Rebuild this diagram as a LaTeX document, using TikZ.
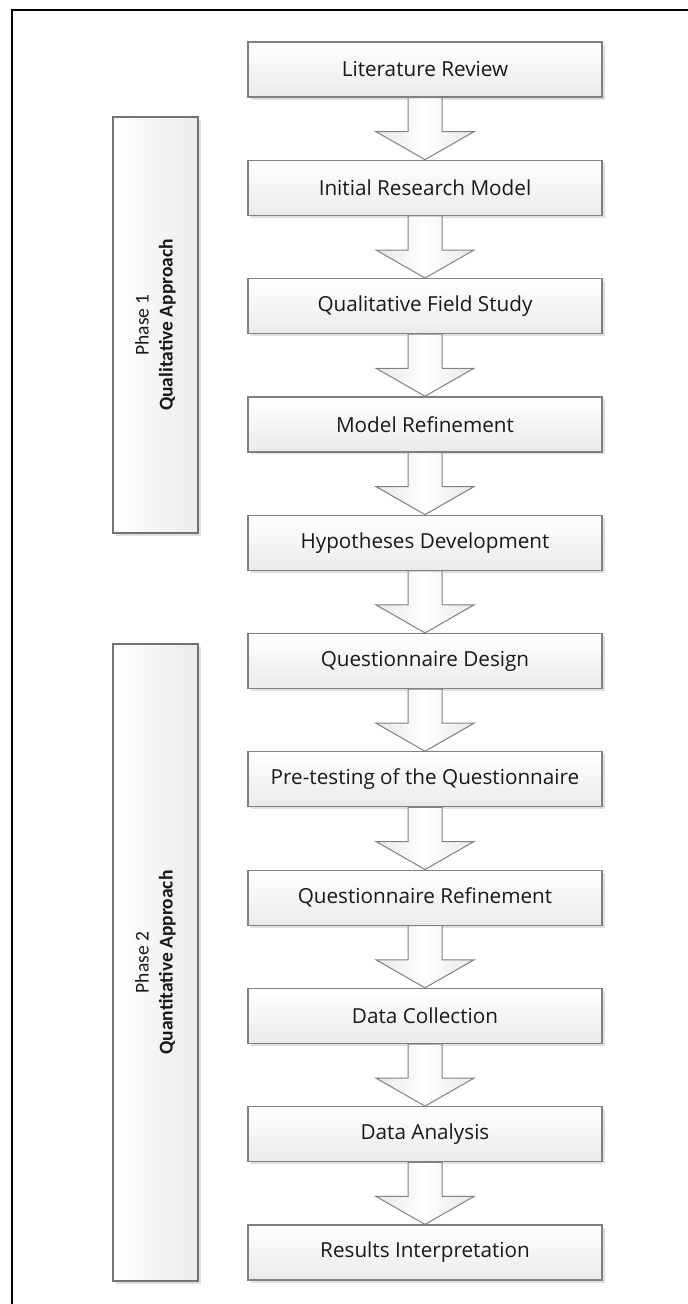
\documentclass[tikz,border=0pt]{standalone}
\usepackage{fontspec}
\setmainfont{Open Sans}
\newfontfamily\calibri{Carlito}
\usetikzlibrary{calc,shadows}
\begin{document}
\begin{tikzpicture}[x=1pt,y=-1pt,
  boxshadow/.style={drop shadow={shadow xshift=2.5pt,shadow yshift=-2.5pt,fill=black!12,opacity=1}},
  stepbox/.style={draw=black!50,line width=1.2pt,top color=white,bottom color=black!8,
    minimum width=354pt,minimum height=55pt,inner sep=0pt,
    font=\fontsize{20.7}{24}\selectfont,text=black!90,boxshadow},
  phasebox/.style={draw=black!55,line width=1.2pt,left color=white,right color=black!8,
    minimum width=85pt,inner sep=0pt,boxshadow},
  phaselab/.style={rotate=90,align=center,inner sep=0pt,text=black!90,
    font=\calibri\fontsize{19.5}{24}\selectfont},
  flowarrow/.style={draw=black!50,line width=1pt,left color=black!9,right color=black!9,middle color=white}
]
\useasboundingbox (0,0) rectangle (688,1304);
\draw[line width=2pt] (12,1304) -- (12,10) -- (688,10);

\node[stepbox] (s1) at (425,69.5) {Literature Review};
\node[stepbox] (s2) at (425,187.8) {Initial Research Model};
\node[stepbox] (s3) at (425,306.1) {Qualitative Field Study};
\node[stepbox] (s4) at (425,424.4) {Model Refinement};
\node[stepbox] (s5) at (425,542.7) {Hypotheses Development};
\node[stepbox] (s6) at (425,661.0) {Questionnaire Design};
\node[stepbox] (s7) at (425,779.3) {Pre-testing of the Questionnaire};
\node[stepbox] (s8) at (425,897.6) {Questionnaire Refinement};
\node[stepbox] (s9) at (425,1015.9) {Data Collection};
\node[stepbox] (s10) at (425,1134.2) {Data Analysis};
\node[stepbox] (s11) at (425,1252.5) {Results Interpretation};

\foreach \a/\b in {s1/s2,s2/s3,s3/s4,s4/s5,s5/s6,s6/s7,s7/s8,s8/s9,s9/s10,s10/s11}{
  \draw[flowarrow] ($(\a.south)+(-17,0)$) -- ($(\a.south)+(17,0)$) -- ($(\b.north)+(17,-28)$)
    -- ($(\b.north)+(49,-28)$) -- (\b.north) -- ($(\b.north)+(-49,-28)$)
    -- ($(\b.north)+(-17,-28)$) -- cycle;
}

\node[phasebox,minimum height=416pt] (p1) at (155.5,325) {};
\node[phaselab] (p1lab) at (p1.center) {Phase 1\\\textbf{Qualitative Approach}};
\node[phasebox,minimum height=637pt] (p2) at (155.5,962.5) {};
\node[phaselab] (p2lab) at (p2.center) {Phase 2\\\textbf{Quantitative Approach}};
\end{tikzpicture}
\end{document}
